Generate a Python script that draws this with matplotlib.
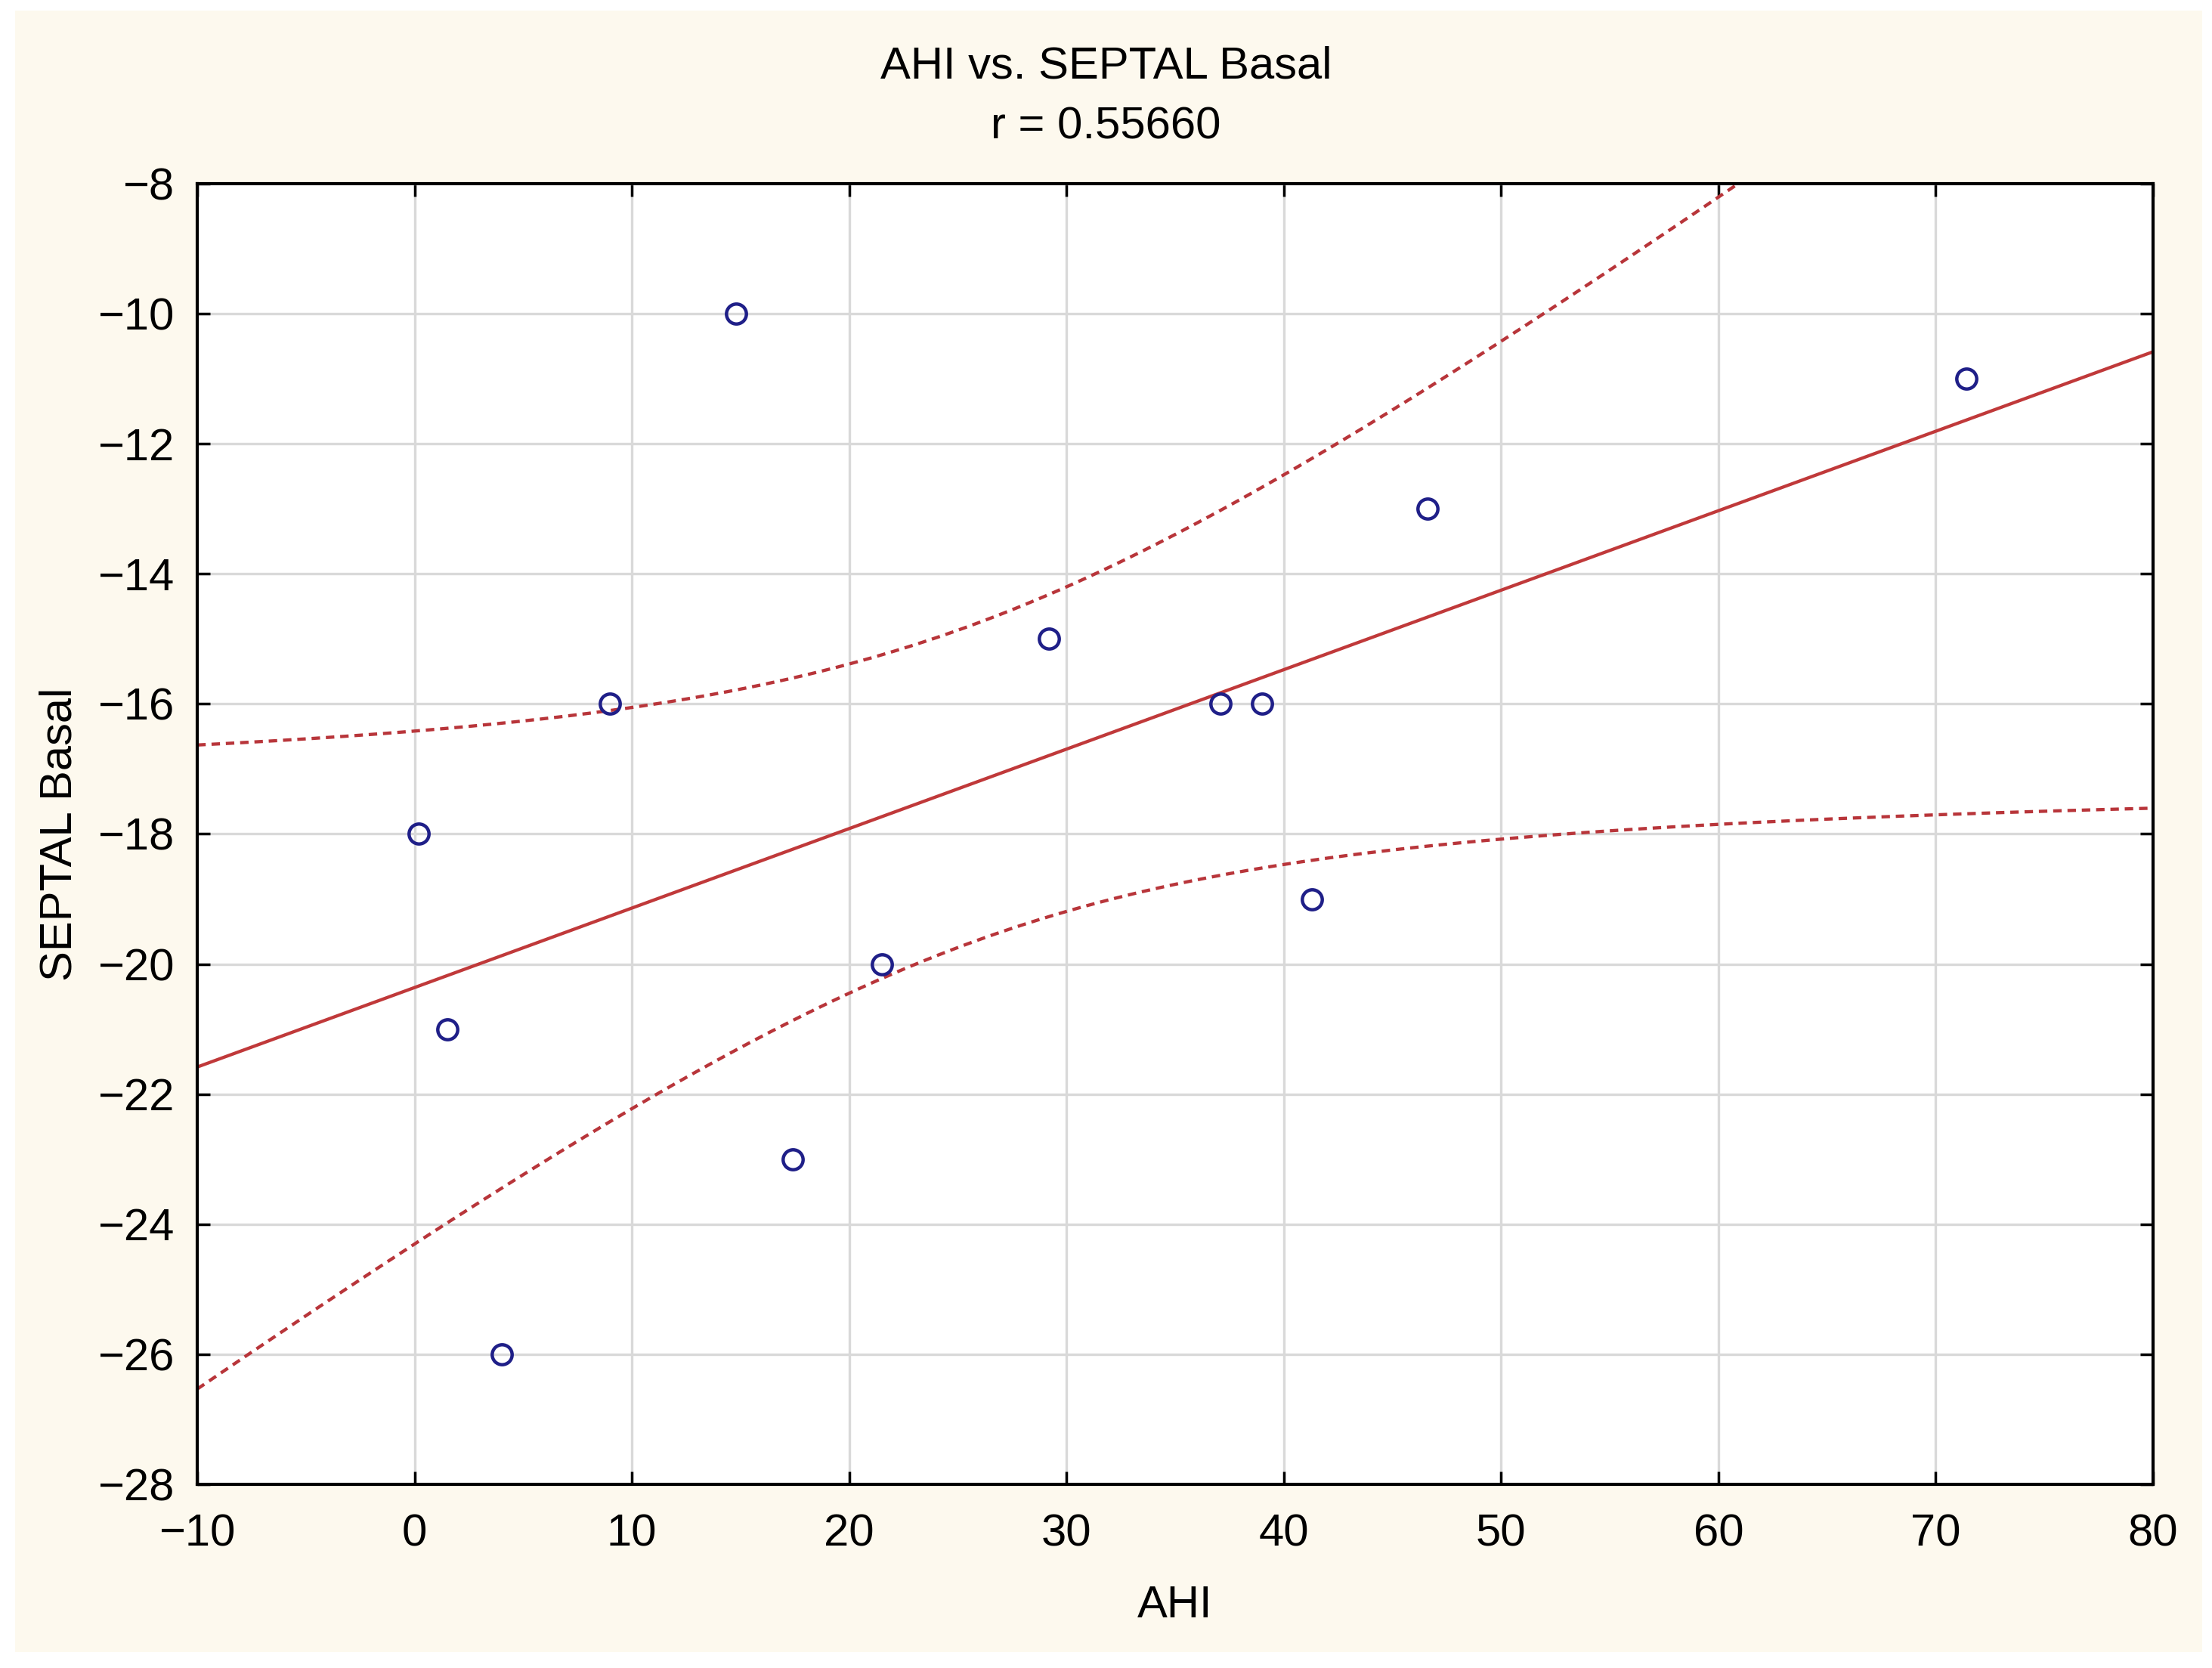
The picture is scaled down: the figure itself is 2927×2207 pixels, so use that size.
import numpy as np
import matplotlib.pyplot as plt
from matplotlib.patches import Rectangle

plt.rcParams['font.family'] = ['Liberation Sans', 'DejaVu Sans']

# data
ahi = [0.2, 1.5, 4.0, 9.0, 14.8, 17.4, 21.5, 29.2, 37.1, 39.0, 41.3, 46.6, 71.4]
septal = [-18, -21, -26, -16, -10, -23, -20, -15, -16, -16, -19, -13, -11]
x_ticks = [-10, 0, 10, 20, 30, 40, 50, 60, 70, 80]
y_ticks = [-28, -26, -24, -22, -20, -18, -16, -14, -12, -10, -8]

x = np.array(ahi)
y = np.array(septal)
n = len(x)

# linear fit + 95% confidence band of the mean
b, a = np.polyfit(x, y, 1)
resid = y - (a + b * x)
s = np.sqrt(np.sum(resid ** 2) / (n - 2))
t_crit = 2.201  # t(0.975, df=11)
xx = np.linspace(-10, 80, 400)
yy = a + b * xx
se = s * np.sqrt(1 / n + (xx - x.mean()) ** 2 / np.sum((x - x.mean()) ** 2))

fig = plt.figure(figsize=(29.27, 22.07), dpi=100, facecolor='white')
fig.patches.append(Rectangle((20 / 2927, 1 - 2186 / 2207), (2914 - 20) / 2927, (2186 - 14) / 2207,
                             transform=fig.transFigure, facecolor='#fdf9ee', edgecolor='none', zorder=-10))
ax = fig.add_axes([261 / 2927, 1 - 1964 / 2207, (2849 - 261) / 2927, (1964 - 243) / 2207])
ax.set_facecolor('white')

ax.grid(True, color='#d9d9d9', lw=2.4, zorder=0)
ax.plot(xx, yy, color='#c0393a', lw=3.1, zorder=2)
ax.plot(xx, yy + t_crit * se, color='#b8353a', lw=3.1, ls=(0, (2.6, 1.8)), zorder=2)
ax.plot(xx, yy - t_crit * se, color='#b8353a', lw=3.1, ls=(0, (2.6, 1.8)), zorder=2)
ax.plot(x, y, 'o', mfc='none', mec='#1f1f88', ms=19, mew=3.2, zorder=3)

ax.set_xlim(-10, 80)
ax.set_ylim(-28, -8)
ax.set_xticks(x_ticks)
ax.set_yticks(y_ticks)
ax.tick_params(direction='in', length=12, width=2.5, labelsize=43, pad=22,
               top=True, right=True, colors='black')
ax.tick_params(axis='x', pad=28)
for sp in ax.spines.values():
    sp.set_linewidth(3)

ax.set_xlabel('AHI', fontsize=43, labelpad=28)
ax.set_ylabel('SEPTAL Basal', fontsize=43, labelpad=16)
fig.text(0.5, 1 - 88 / 2207, 'AHI vs. SEPTAL Basal', fontsize=43, ha='center', va='center')
fig.text(0.5, 1 - 168 / 2207, 'r = 0.55660', fontsize=43, ha='center', va='center')

fig.savefig('out.png', dpi=100, facecolor=fig.get_facecolor())
